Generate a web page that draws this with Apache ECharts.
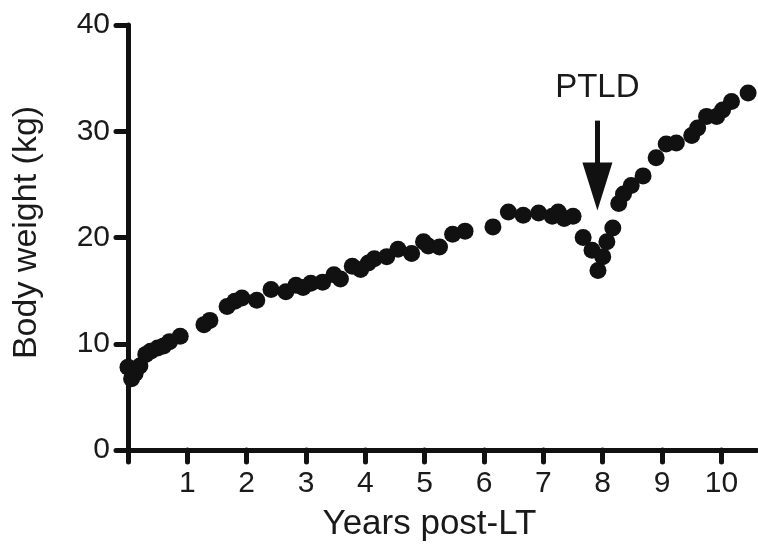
<!DOCTYPE html>
<html>
<head>
<meta charset="utf-8">
<script src="https://cdn.jsdelivr.net/npm/echarts@6/dist/echarts.min.js"></script>
<style>
html,body{margin:0;padding:0;background:#fff;}
#chart{width:758px;height:547px;}
</style>
</head>
<body>
<div id="chart"></div>
<script>
// Data
const yearsPostLT = [0.0,0.06,0.12,0.2,0.3,0.38,0.5,0.6,0.7,0.88,
  1.28,1.38,1.67,1.8,1.92,2.17,
  2.41,2.66,2.83,2.95,3.08,3.28,3.47,3.58,3.78,3.92,4.05,4.15,4.36,4.55,4.78,4.98,5.06,5.25,5.47,5.68,
  6.15,6.41,6.66,6.92,7.15,7.25,7.35,7.5,7.67,7.82,7.92,8.0,8.07,8.17,
  8.27,8.35,8.48,8.68,8.9,9.07,9.24,9.5,9.6,9.75,9.92,10.02,10.17,10.45];
const bodyWeightKg = [7.8,6.7,7.2,7.9,9.0,9.3,9.6,9.8,10.2,10.7,
  11.8,12.2,13.5,14.0,14.3,14.1,
  15.1,14.9,15.5,15.3,15.7,15.8,16.5,16.1,17.3,17.0,17.6,18.0,18.2,18.9,18.5,19.6,19.2,19.1,20.3,20.6,
  21.0,22.4,22.1,22.3,22.0,22.4,21.8,22.0,20.0,18.8,16.9,18.2,19.6,20.9,
  23.2,24.1,24.9,25.8,27.5,28.8,28.9,29.6,30.3,31.4,31.4,32.0,32.8,33.6];
const xTickValues = [0,1,2,3,4,5,6,7,8,9,10];
const xLabelValues = [1,2,3,4,5,6,7,8,9,10];
const yTickValues = [0,10,20,30,40];
const ptldYear = 7.91;
const arrowFrom = 31.0, arrowTo = 24.8, ptldLabelY = 34.1;

const points = yearsPostLT.map((x, i) => [x, bodyWeightKg[i]]);
const font = "'Liberation Sans', Arial, Helvetica, sans-serif";
const ink = '#111';

const chart = echarts.init(document.getElementById('chart'), null, {renderer: 'canvas'});
chart.setOption({
  animation: false,
  backgroundColor: '#fff',
  grid: {left: 128, right: 1, top: 25, bottom: 93, containLabel: false},
  xAxis: {
    type: 'value', min: 0, max: 10.6,
    name: 'Years post-LT', nameLocation: 'middle', nameGap: 57,
    nameTextStyle: {fontFamily: font, fontSize: 35, color: '#1a1a1a', padding: [0, 26, 0, 0]},
    splitLine: {show: false},
    axisLine: {show: true, onZero: false, lineStyle: {color: ink, width: 5}},
    axisTick: {show: true, length: 12, inside: false, customValues: xTickValues, lineStyle: {color: ink, width: 5, cap: 'round'}},
    axisLabel: {show: true, customValues: xLabelValues, margin: 19, fontFamily: font, fontSize: 30, color: '#1a1a1a'}
  },
  yAxis: {
    type: 'value', min: 0, max: 40, interval: 10,
    name: 'Body weight (kg)', nameLocation: 'middle', nameGap: 84, nameRotate: 90,
    nameTextStyle: {fontFamily: font, fontSize: 34, color: '#1a1a1a', padding: [0, 0, 0, 10]},
    splitLine: {show: false},
    axisLine: {show: true, onZero: false, lineStyle: {color: ink, width: 5}},
    axisTick: {show: true, length: 12, customValues: yTickValues, lineStyle: {color: ink, width: 5, cap: 'round'}},
    axisLabel: {show: true, customValues: yTickValues, margin: 18, fontFamily: font, fontSize: 30, color: '#1a1a1a'}
  },
  series: [{
    type: 'scatter',
    data: points,
    symbol: 'circle',
    symbolSize: 17,
    itemStyle: {color: ink, opacity: 1},
    clip: false,
    markLine: {
      silent: true,
      symbol: ['none', 'triangle'],
      symbolSize: [30, 48],
      lineStyle: {color: ink, width: 5, type: 'solid'},
      label: {show: false},
      data: [[{coord: [ptldYear, arrowFrom]}, {coord: [ptldYear, arrowTo]}]]
    },
    markPoint: {
      silent: true,
      symbol: 'circle', symbolSize: 0,
      label: {show: true, formatter: 'PTLD', position: 'inside', fontFamily: font, fontSize: 33, color: '#1a1a1a'},
      data: [{coord: [ptldYear, ptldLabelY]}]
    }
  }]
});
</script>
</body>
</html>
